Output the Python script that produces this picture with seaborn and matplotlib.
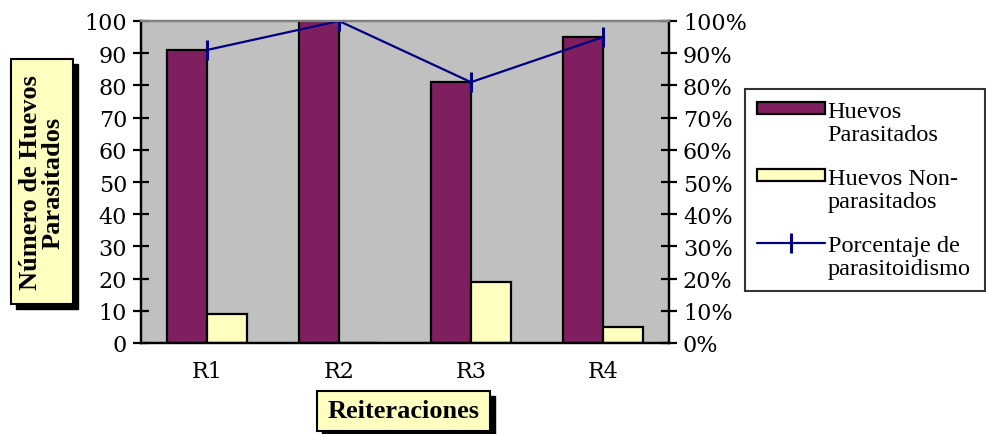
import numpy as np
import pandas as pd
import matplotlib
matplotlib.use("Agg")
import matplotlib.pyplot as plt
from matplotlib.patches import Rectangle
from matplotlib.lines import Line2D
from matplotlib.legend_handler import HandlerPatch, HandlerLine2D
from matplotlib.ticker import FixedLocator, PercentFormatter
import seaborn as sns

# Data
reiteraciones = ["R1", "R2", "R3", "R4"]
huevos_parasitados = [91, 100, 81, 95]
huevos_no_parasitados = [9, 0, 19, 5]
porcentaje_parasitoidismo = [0.91, 1.00, 0.81, 0.95]

serie_par = "Huevos\nParasitados"
serie_non = "Huevos Non-\nparasitados"
serie_pct = "Porcentaje de\nparasitoidismo"

df = pd.DataFrame({
    "Reiteracion": reiteraciones * 2,
    "Huevos": huevos_parasitados + huevos_no_parasitados,
    "Serie": [serie_par] * 4 + [serie_non] * 4,
})

sns.set_theme(style="white")
plt.rcParams["font.family"] = ["DejaVu Serif"]
for key in ("text.color", "axes.labelcolor", "xtick.color", "ytick.color"):
    plt.rcParams[key] = "black"

W, H = 987, 435
fig = plt.figure(figsize=(W / 100, H / 100), dpi=100)
ax = fig.add_axes([141 / W, 1 - 344 / H, (669 - 141) / W, (344 - 22) / H])
ax.set_facecolor("#C0C0C0")

purple = "#7F1F5F"
cream = "#FFFFC0"
navy = "#000080"

sns.barplot(data=df, x="Reiteracion", y="Huevos", hue="Serie",
            palette=[purple, cream], edgecolor="black", linewidth=1.6,
            width=0.6, saturation=1, ax=ax, legend=False)

ax2 = ax.twinx()
xpos = np.arange(len(reiteraciones))
sns.lineplot(x=xpos, y=porcentaje_parasitoidismo, color=navy, linewidth=1.6,
             marker="|", markersize=14, markeredgewidth=2.2,
             markeredgecolor=navy, ax=ax2)

ax.set_xlim(-0.5, 3.5)
ax.set_ylim(0, 100)
ax2.set_ylim(0, 1)

ax.set_yticks(np.arange(0, 101, 10))
ax2.set_yticks(np.arange(0, 1.01, 0.1))
ax2.yaxis.set_major_formatter(PercentFormatter(1.0, decimals=0))

ax.set_xticks(xpos)
ax.set_xticklabels(reiteraciones)
ax.xaxis.set_minor_locator(FixedLocator(np.arange(-0.5, 3.6, 1)))
ax.tick_params(axis="x", which="major", length=0, pad=12, labelsize=16)
ax.tick_params(axis="x", which="minor", length=10, width=1.6,
               direction="inout", color="black")
ax.tick_params(axis="y", length=12, width=1.6, direction="inout",
               color="black", labelsize=16, pad=4)
ax2.tick_params(axis="y", length=12, width=1.6, direction="inout",
                color="black", labelsize=16, pad=4)
ax.set_xlabel("")
ax.set_ylabel("")
ax2.set_ylabel("")

for a in (ax, ax2):
    for side in ("left", "right", "bottom"):
        a.spines[side].set_color("black")
        a.spines[side].set_linewidth(1.6)
    a.spines["top"].set_color("#808080")
    a.spines["top"].set_linewidth(1.6)
ax2.set_zorder(ax.get_zorder() + 1)
ax2.patch.set_visible(False)

# Shadowed label boxes
def label_box(x0, y0, x1, y1, text, rotation=0, size=15):
    off = 5
    fig.patches.append(Rectangle(((x0 + off) / W, 1 - (y1 + off) / H),
                                 (x1 - x0) / W, (y1 - y0) / H,
                                 transform=fig.transFigure, facecolor="black",
                                 edgecolor="black", zorder=1))
    fig.patches.append(Rectangle((x0 / W, 1 - y1 / H), (x1 - x0) / W,
                                 (y1 - y0) / H, transform=fig.transFigure,
                                 facecolor=cream, edgecolor="black",
                                 linewidth=1.5, zorder=2))
    fig.text((x0 + x1) / 2 / W, 1 - (y0 + y1) / 2 / H, text,
             rotation=rotation, ha="center", va="center", fontsize=size,
             fontweight="bold", family=["Liberation Serif"],
             linespacing=0.95, zorder=3)

label_box(11, 60, 73, 305, "Número de Huevos\nParasitados", rotation=90, size=19)
label_box(317, 392, 490, 432, "Reiteraciones", size=19)

# Legend handles sit level with the first line of each two-line label
LEG_FS = 17.5
RAISE = 0.6 * LEG_FS


class TopPatch(HandlerPatch):
    def create_artists(self, legend, orig_handle, xdescent, ydescent,
                       width, height, fontsize, trans):
        return super().create_artists(legend, orig_handle, xdescent,
                                      ydescent - RAISE, width, height,
                                      fontsize, trans)


class TopLine(HandlerLine2D):
    def create_artists(self, legend, orig_handle, xdescent, ydescent,
                       width, height, fontsize, trans):
        return super().create_artists(legend, orig_handle, xdescent,
                                      ydescent - 2 * RAISE, width, height,
                                      fontsize, trans)


h_par = Rectangle((0, 0), 1, 1, facecolor=purple, edgecolor="black", linewidth=1.6)
h_non = Rectangle((0, 0), 1, 1, facecolor=cream, edgecolor="black", linewidth=1.6)
h_pct = Line2D([], [], color=navy, linewidth=1.6, marker="|", markersize=14,
               markeredgewidth=2.2)
bb_h = 1e-4
leg = fig.legend([h_par, h_non, h_pct], [serie_par, serie_non, serie_pct],
                 loc="upper left",
                 bbox_to_anchor=(745 / W, 1 - 90 / H - bb_h, (985 - 745) / W, bb_h),
                 mode="expand", frameon=True, fancybox=False,
                 prop={"family": ["Liberation Serif"], "size": LEG_FS},
                 handlelength=2.78, handleheight=0.42,
                 handletextpad=0.12, labelspacing=0.95, borderpad=0.5,
                 borderaxespad=0,
                 handler_map={Rectangle: TopPatch(), Line2D: TopLine()})
leg.get_frame().set_edgecolor("black")
leg.get_frame().set_linewidth(1.5)
for t in leg.get_texts():
    t.set_linespacing(1.12)

fig.savefig("out.png", dpi=100, facecolor="white")
